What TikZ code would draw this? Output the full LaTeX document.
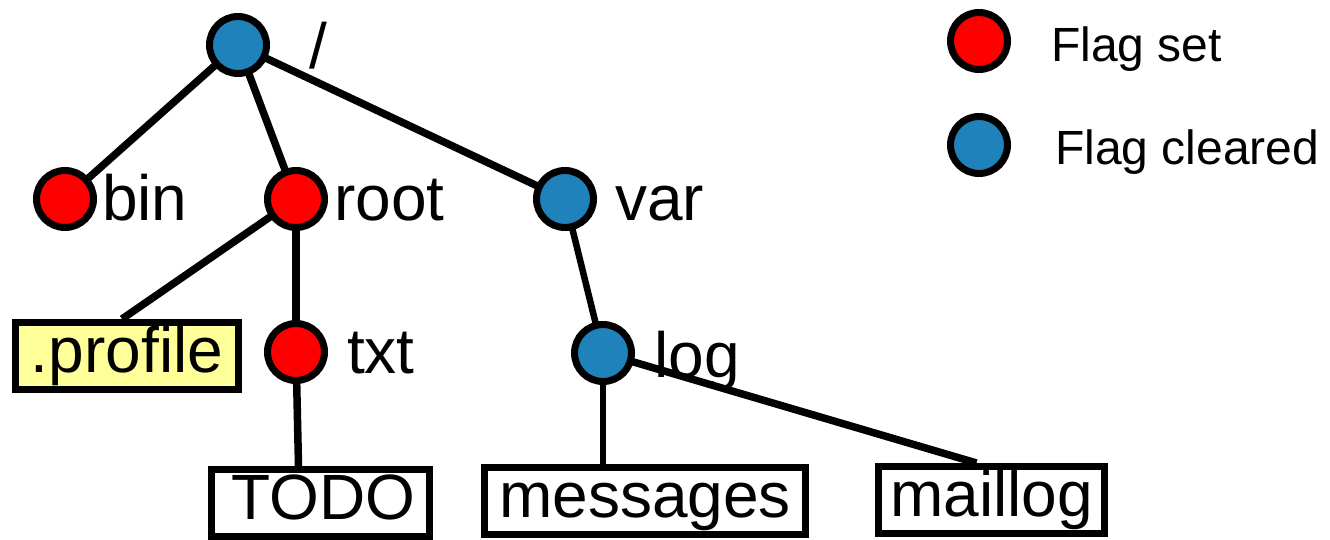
\documentclass[tikz,border=0pt]{standalone}
\usepackage{fontspec}
\setmainfont{Liberation Sans}
\usetikzlibrary{backgrounds}
\definecolor{flagred}{RGB}{255,0,0}
\definecolor{flagblue}{RGB}{31,130,187}
\definecolor{fileyellow}{RGB}{255,255,153}

\begin{document}
\begin{tikzpicture}[x=1pt, y=-1pt,
  dirnode/.style={circle, draw, line width=7pt, minimum size=57pt, inner sep=0pt},
  flagset/.style={dirnode, fill=flagred},
  flagclr/.style={dirnode, fill=flagblue},
  filebox/.style={draw, fill=white, line width=7pt, minimum height=67pt, inner sep=0pt,
    font=\fontsize{64}{70}\selectfont, text height=47pt, text depth=14pt},
  lbl/.style={inner sep=0pt, anchor=base west, font=\fontsize{64}{70}\selectfont},
  keytext/.style={inner sep=0pt, anchor=base west, font=\fontsize{48}{52}\selectfont},
  link/.style={line width=7.5pt}]
\useasboundingbox (0,0) rectangle (1330,540);
%----------------------------------
\node[flagclr] (top) at (238,45) {};
\node[flagset] (bin) at (65,199) {};
\node[flagset] (root) at (296,199) {};
\node[flagclr] (var) at (565,199) {};
\node[flagset] (txt) at (296,352) {};
\node[flagclr] (log) at (603,353) {};
%----------------------------------
\node[filebox, fill=fileyellow, minimum width=223pt] (profile) at (127,356) {.profile};
\node[filebox, minimum width=218pt, text width=190pt, align=right] (todo) at (320.5,503) {TODO};
\node[filebox, minimum width=321pt] (msgs) at (645,501) {messages};
\node[filebox, minimum width=226pt] (maillog) at (991.5,500) {maillog};
%----------------------------------
\node[lbl] (slash) at (309,69) {/};
\node[lbl] (binlbl) at (102,220) {bin};
\node[lbl] (rootlbl) at (334,220) {root};
\node[lbl] (varlbl) at (615,220) {var};
\node[lbl] (txtlbl) at (347,373) {txt};
\node[lbl] (loglbl) at (654,377) {log};
%---------------------------------
\begin{scope}[on background layer]
\draw[link] (top.center) -- (bin.center);
\draw[link] (top.center) -- (root.center);
\draw[link] (top.center) -- (var.center);
\draw[link] (root.center) -- ([xshift=-5pt]profile.north);
\draw[link] (root.center) -- (txt.center);
\draw[link] (txt.center) -- ([xshift=-22pt]todo.north);
\draw[link, line width=6.5pt] (var.center) -- (log.center);
\draw[link, line width=6.5pt] (log.center) -- (msgs.north -| log);
\draw[link] (log.center) -- ([xshift=-15pt]maillog.north);
\end{scope}
%---------------------------------
\node[flagset] (keyset) at (979,41) {};
\node[keytext] (keysetlbl) at (1051,62) {Flag set};
\node[flagclr] (keyclr) at (979,145) {};
\node[keytext] (keyclrlbl) at (1055,165) {Flag cleared};
\end{tikzpicture}
\end{document}
